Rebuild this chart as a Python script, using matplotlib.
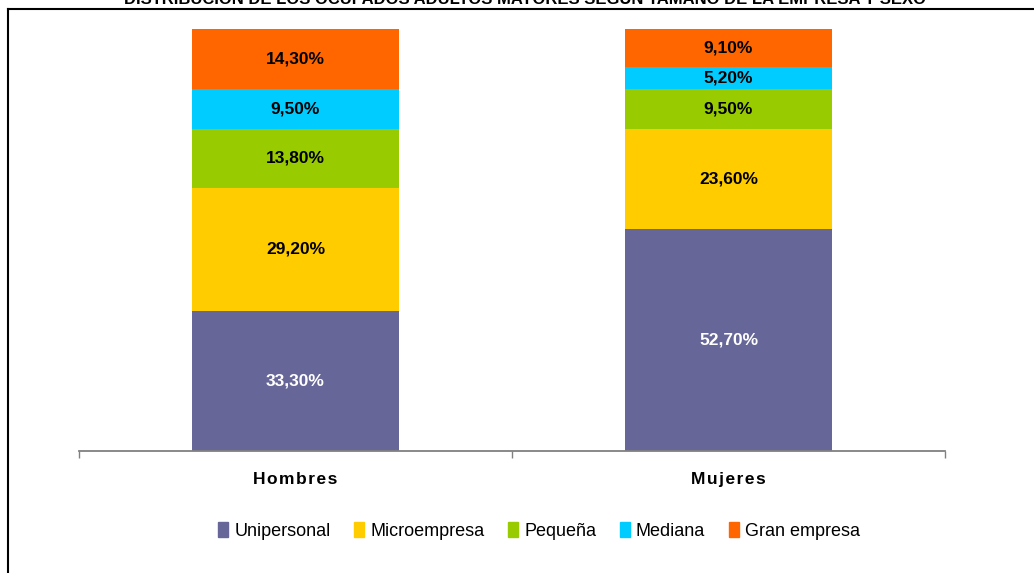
"""
Distribución de los ocupados adultos mayores según tamaño de la empresa y sexo
"""

import matplotlib.pyplot as plt
import numpy as np
from matplotlib.lines import Line2D

plt.rcParams['font.family'] = ['Liberation Sans', 'DejaVu Sans']

# Datos
sexos = ['Hombres', 'Mujeres']
categorias = ['Unipersonal', 'Microempresa', 'Pequeña', 'Mediana', 'Gran empresa']
unipersonal = [33.3, 52.7]
microempresa = [29.2, 23.6]
pequena = [13.8, 9.5]
mediana = [9.5, 5.2]
gran_empresa = [14.3, 9.1]
colores = ['#666699', '#FFCC00', '#99CC00', '#00CCFF', '#FF6600']
color_texto = ['white', 'black', 'black', 'black', 'black']

series = [unipersonal, microempresa, pequena, mediana, gran_empresa]

fig = plt.figure(figsize=(10.34, 5.73), dpi=100)
ax = fig.add_axes([79 / 1034, 1 - 451 / 573, 866 / 1034, 422 / 573])

# Barras apiladas con sus etiquetas
x = np.arange(len(sexos))
base = np.zeros(len(sexos))
for vals, col, tc, nombre in zip(series, colores, color_texto, categorias):
    vals = np.array(vals)
    ax.bar(x, vals, width=0.476, bottom=base, color=col, label=nombre)
    for xi, b, v in zip(x, base, vals):
        ax.text(xi, b + v / 2, f'{v:.2f}%'.replace('.', ','), ha='center',
                va='center', fontsize=12.5, fontweight='bold', color=tc)
    base += vals

ax.set_xlim(-0.5, 1.5)
ax.set_ylim(0, 100.1)
for s in ['top', 'right', 'left']:
    ax.spines[s].set_visible(False)
ax.spines['bottom'].set_color('#808080')
ax.spines['bottom'].set_linewidth(1.3)
ax.set_yticks([])
ax.set_xticks(x)
# etiquetas con algo de espaciado entre letras, como en el original
ax.set_xticklabels(['\u200a'.join(s) for s in sexos], fontsize=12.5, fontweight='bold')
ax.tick_params(axis='x', which='major', length=0, pad=15)
ax.set_xticks([-0.5, 0.5, 1.5], minor=True)
ax.tick_params(axis='x', which='minor', length=5, color='#808080', width=1)

# Leyenda
handles = [plt.Rectangle((0, 0), 1, 1, color=c) for c in colores]
fig.legend(handles, categorias, loc='center', bbox_to_anchor=(539 / 1034, 1 - 531 / 573),
           ncol=5, frameon=False, fontsize=13, handlelength=0.55, handleheight=0.85,
           handletextpad=0.35, columnspacing=1.3)

# Título (recortado en la parte superior, como en el original)
fig.text(525 / 1034, 1 - 4 / 573,
         'DISTRIBUCIÓN DE LOS OCUPADOS ADULTOS MAYORES SEGÚN TAMAÑO DE LA EMPRESA Y SEXO',
         ha='center', va='baseline', fontsize=12, fontweight='bold')

# Marco
fig.add_artist(Line2D([8 / 1034, 8 / 1034], [0, 1 - 9 / 573], color='black', lw=1.5,
                      transform=fig.transFigure))
fig.add_artist(Line2D([8 / 1034, 1], [1 - 9 / 573, 1 - 9 / 573], color='black', lw=1.5,
                      transform=fig.transFigure))

fig.savefig('out.png', dpi=100)
